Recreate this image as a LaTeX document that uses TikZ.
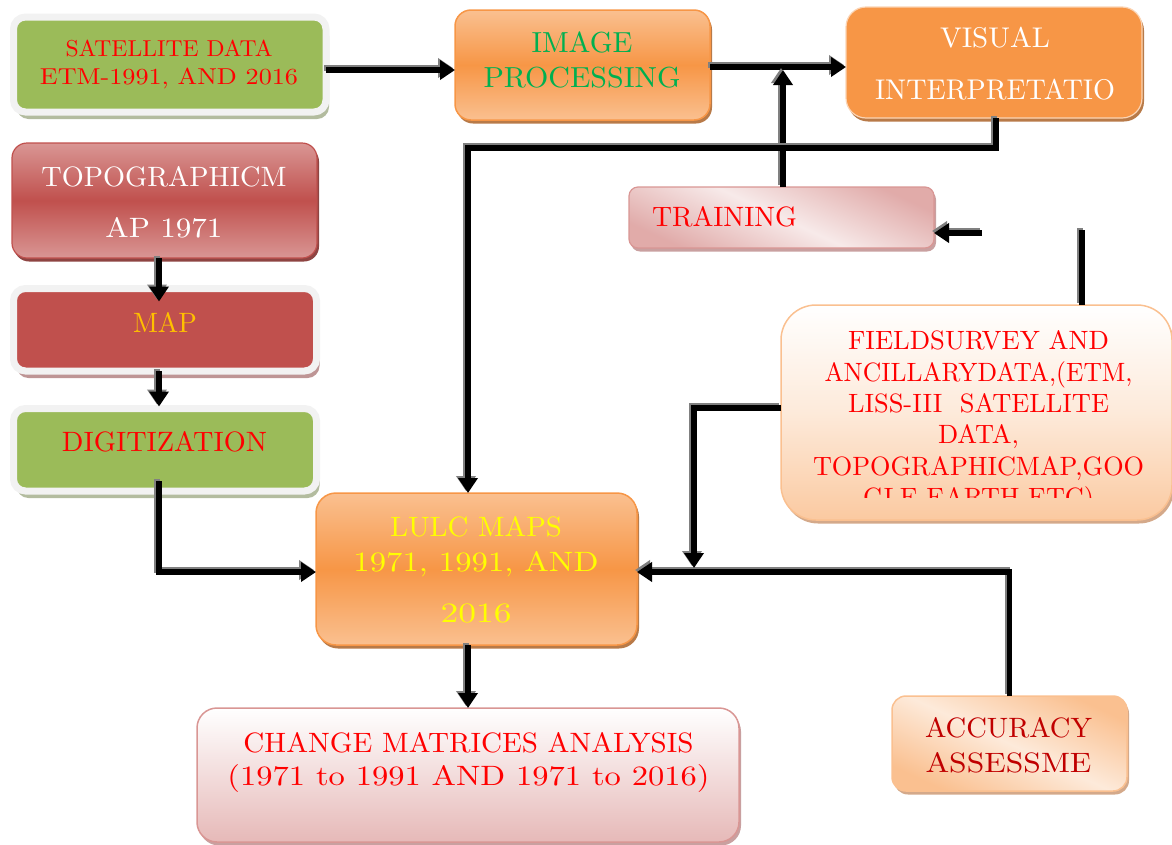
\documentclass[tikz,border=0pt]{standalone}
\usepackage{fontspec}
\setmainfont{lmroman10-regular.otf}
\usepackage{graphicx}
\usetikzlibrary{arrows.meta,shadows}

\definecolor{cgreen}{HTML}{9BBB59}
\definecolor{cframe}{HTML}{F2F2F2}
\definecolor{cred}{HTML}{C0504D}
\definecolor{cpink}{HTML}{D99694}
\definecolor{clpink}{HTML}{F2DCDB}
\definecolor{cmpink}{HTML}{E6B9B8}
\definecolor{corange}{HTML}{F79646}
\definecolor{clorange}{HTML}{FAC090}
\definecolor{cpeach}{HTML}{FBD4B4}
\definecolor{cpale}{HTML}{FDEADA}
\definecolor{tred}{HTML}{FF0000}
\definecolor{tgreen}{HTML}{00B050}
\definecolor{tgold}{HTML}{FFC000}
\definecolor{tyellow}{HTML}{FFFF00}
\definecolor{tdark}{HTML}{C00000}
\definecolor{shgreen}{HTML}{B3BC9F}
\definecolor{shred}{HTML}{BE9595}
\definecolor{shbrown}{HTML}{B87A48}
\definecolor{shdred}{HTML}{8E4442}
\definecolor{shpeach}{HTML}{D4A98A}
\definecolor{shpink}{HTML}{C9A0A0}
\definecolor{lshadow}{HTML}{808080}

\newcommand{\fw}[2]{\resizebox{#1pt}{\height}{#2}}
\newcommand{\cn}[2][]{\draw[lnksh,#1] #2; \draw[lnk,#1] #2;}

\tikzset{
  box/.style={inner sep=0pt, outer sep=0pt},
  txt/.style={align=center, inner sep=0pt, outer sep=0pt},
  framebox/.style={box, draw=cframe, line width=7pt, rounded corners=12pt},
  lnk/.style={line width=5.5pt, draw=black},
  lnksh/.style={line width=5.5pt, draw=lshadow, transform canvas={xshift=-2pt,yshift=2pt}},
  arrtip/.style={-{Triangle[width=19pt,length=15pt]}},
  sh/.style={drop shadow={shadow xshift=2pt, shadow yshift=-3.5pt, fill=#1, opacity=1}},
  fsh/.style={drop shadow={shadow xshift=3pt, shadow yshift=-7pt, fill=#1, opacity=1}},
}

\begin{document}
\begin{tikzpicture}[x=1pt,y=-1pt]
\useasboundingbox (0,0) rectangle (1172,844);

% ---------- boxes ----------
\node[framebox, fill=cgreen, fsh=shgreen, minimum width=312.5pt, minimum height=95pt] (sat) at (169.75,64.5) {};
\node[framebox, fill=cred, fsh=shred, minimum width=303pt, minimum height=82.5pt] (map) at (165,329.75) {};
\node[framebox, fill=cgreen, fsh=shgreen, minimum width=303pt, minimum height=82.5pt] (dig) at (165,449.75) {};

\node[box, rounded corners=15pt, top color=cpink, bottom color=cpink, middle color=cred, draw=cred, line width=1.2pt, sh=shdred, minimum width=305pt, minimum height=115pt] (topo) at (164.5,200.5) {};

\node[box, rounded corners=16pt, top color=clorange, bottom color=clorange, middle color=corange, draw=corange, line width=1.5pt, sh=shbrown, minimum width=255pt, minimum height=110pt] (img) at (582.5,65) {};

\node[box, rounded corners=20pt, fill=corange, draw=cpeach, line width=1.2pt, sh=shbrown, minimum width=296pt, minimum height=111pt] (vis) at (994,62.5) {};

\node[box, rounded corners=9pt, top color=cpink!80!white, bottom color=cpink!80!white, middle color=clpink!60!white, shading angle=-25, draw=cpink, line width=1.2pt, sh=shpink, minimum width=305pt, minimum height=61pt] (train) at (781.5,217.5) {};

\node[box, rounded corners=35pt, top color=white, bottom color=clorange!85, middle color=cpale, draw=clorange, line width=1.5pt, sh=shpeach, minimum width=391pt, minimum height=215pt] (field) at (976.5,412.5) {};

\node[box, rounded corners=20pt, top color=clorange, bottom color=clorange, middle color=corange, draw=corange, line width=1.5pt, sh=shbrown, minimum width=321pt, minimum height=152pt] (lulc) at (476.5,569) {};

\node[box, rounded corners=20pt, top color=white, bottom color=cmpink, draw=cpink, line width=1.5pt, sh=shpink, minimum width=542pt, minimum height=134pt] (change) at (468,775) {};

\node[box, rounded corners=14pt, top color=clorange, bottom color=clorange, middle color=cpale, shading angle=-25, draw=clorange, line width=1.5pt, sh=shpeach, minimum width=235pt, minimum height=95pt] (acc) at (1009.5,743.5) {};

% ---------- texts ----------
\node[txt, text=tred, font=\fontsize{23}{28}\selectfont] (satT) at (169,64.7)
  {\fw{207}{SATELLITE DATA}\\\fw{258}{ETM-1991, AND 2016}};
\node[txt, text=tgreen, font=\fontsize{29}{35}\selectfont] (imgT) at (582,59.5)
  {\fw{101}{IMAGE}\\\fw{197}{PROCESSING}};
\node[txt, text=white, font=\fontsize{28.5}{52}\selectfont] (visT) at (995,64)
  {\fw{110}{VISUAL}\\\fw{240}{INTERPRETATIO}};
\node[txt, text=white, font=\fontsize{28}{51}\selectfont] (topoT) at (164,202.5)
  {\fw{245}{TOPOGRAPHICM}\\\fw{117}{AP 1971}};
\node[txt, text=tgold, font=\fontsize{28}{34}\selectfont] (mapT) at (165,322) {\fw{64}{MAP}};
\node[txt, text=tred, font=\fontsize{28}{34}\selectfont] (digT) at (164.5,442) {\fw{205}{DIGITIZATION}};
\node[txt, text=tred, font=\fontsize{28}{34}\selectfont, anchor=west] (trainT) at (652,217) {\fw{145}{TRAINING}};
\begin{scope}
  \clip (781,300) rectangle (1172,497);
  \node[txt, text=tred, font=\fontsize{26.5}{31.3}\selectfont] (fieldT) at (978.5,422)
    {\fw{261}{FIELDSURVEY AND}\\\fw{308}{ANCILLARYDATA,(ETM,}\\\fw{261}{LISS-III\ \ SATELLITE}\\\fw{81}{DATA,}\\\fw{331}{TOPOGRAPHICMAP,GOO}\\\fw{231}{GLE EARTH ETC)}};
\end{scope}
\node[txt, text=tyellow, font=\fontsize{28}{35}\selectfont] (lulcT) at (476,570)
  {\fw{172}{LULC MAPS}\\\fw{245}{1971, 1991, AND}\\[16pt]\fw{71}{2016}};
\node[txt, text=tred, font=\fontsize{28}{33}\selectfont] (changeT) at (468.5,762)
  {\fw{450}{CHANGE MATRICES ANALYSIS}\\\fw{482}{(1971 to 1991 AND 1971 to 2016)}};
\node[txt, text=tdark, font=\fontsize{28}{35}\selectfont] (accT) at (1008.5,745.5)
  {\fw{167}{ACCURACY}\\\fw{166}{ASSESSME}};

% ---------- connectors ----------
\coordinate (cj) at (783,70);
\coordinate (tr) at (982,233);
\coordinate (fs) at (1082,230);
\coordinate (jn) at (694,568);

\cn[arrtip]{([yshift=-5.5pt]sat.east) -- ([yshift=-5.5pt]sat.east -| img.west)}
\cn[arrtip]{([yshift=-2pt]img.east) -- ([yshift=-2pt]img.east -| vis.west)}
\cn[arrtip]{(train.north -| cj) -- (cj)}
\cn[arrtip]{([xshift=2pt]vis.south) -- ++(0,30) -| ([xshift=-8.5pt]lulc.north)}
\cn[arrtip]{(tr) -- (tr -| train.east)}
\cn{(fs) -- (fs |- field.north)}
\cn[arrtip]{([xshift=-5.5pt]topo.south) -- ([xshift=-6pt,yshift=-13pt]map.north)}
\cn[arrtip]{([xshift=-6pt]map.south) -- ([xshift=-6pt,yshift=2pt]dig.north)}
\cn[arrtip]{([xshift=-6pt,yshift=10pt]dig.south) |- ([yshift=-3pt]lulc.west)}
\cn[arrtip]{(acc.north) |- ([yshift=-3pt]lulc.east)}
\cn[arrtip]{([yshift=4.5pt]field.west) -| (jn)}
\cn[arrtip]{(change.north |- lulc.south) -- (change.north)}
\end{tikzpicture}
\end{document}
